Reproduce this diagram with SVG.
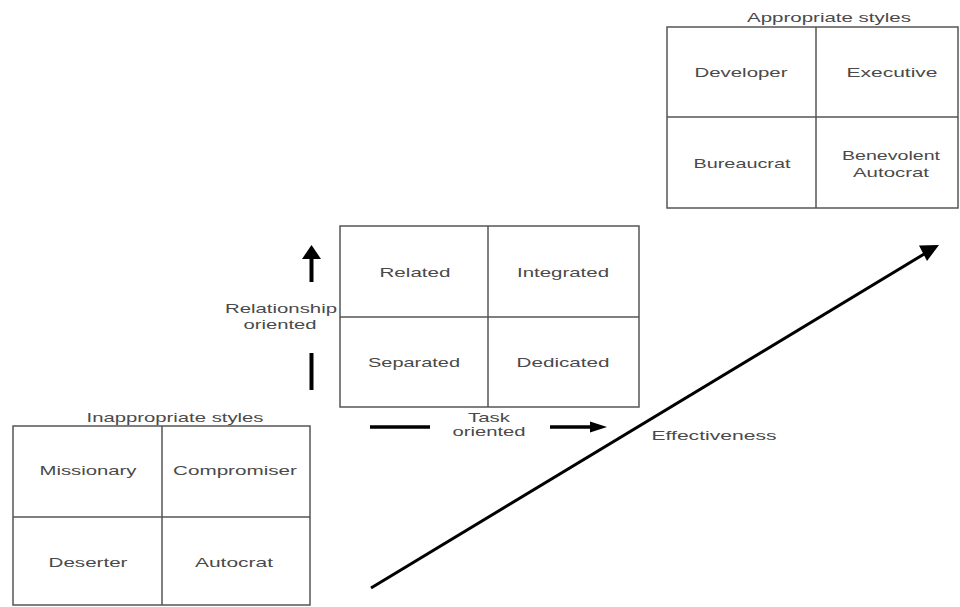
<svg xmlns="http://www.w3.org/2000/svg" width="960" height="607" viewBox="0 0 960 607">
<style>
.t{font-family:"Liberation Sans",Arial,sans-serif;font-size:13px;fill:#4a4a4a;text-anchor:middle}
.g{fill:none;stroke:#555;stroke-width:1.5}
.c{fill:none;stroke:#000}
</style>
<defs>
<marker id="ah" viewBox="0 0 10 10" refX="9" refY="5" markerWidth="6" markerHeight="4" orient="auto" markerUnits="strokeWidth">
<path d="M0,0 L10,5 L0,10 z" fill="#000"/>
</marker>
</defs>
<rect width="960" height="607" fill="#fff"/>

<g id="appropriate">
<text class="t" x="829" y="22" textLength="164" lengthAdjust="spacingAndGlyphs">Appropriate styles</text>
<rect class="g" x="667" y="27" width="291" height="181"/>
<line class="g" x1="816" y1="27" x2="816" y2="208"/>
<line class="g" x1="667" y1="117" x2="958" y2="117"/>
<text class="t" x="741" y="77" textLength="93" lengthAdjust="spacingAndGlyphs">Developer</text>
<text class="t" x="892" y="77" textLength="91" lengthAdjust="spacingAndGlyphs">Executive</text>
<text class="t" x="742" y="168" textLength="97" lengthAdjust="spacingAndGlyphs">Bureaucrat</text>
<text class="t" x="891" y="160" textLength="98" lengthAdjust="spacingAndGlyphs">Benevolent</text>
<text class="t" x="891" y="177" textLength="76" lengthAdjust="spacingAndGlyphs">Autocrat</text>
</g>

<g id="middle-grid">
<rect class="g" x="340" y="226" width="299" height="181"/>
<line class="g" x1="488" y1="226" x2="488" y2="407"/>
<line class="g" x1="340" y1="317" x2="639" y2="317"/>
<text class="t" x="415" y="277" textLength="71" lengthAdjust="spacingAndGlyphs">Related</text>
<text class="t" x="563" y="277" textLength="92" lengthAdjust="spacingAndGlyphs">Integrated</text>
<text class="t" x="414" y="367" textLength="92" lengthAdjust="spacingAndGlyphs">Separated</text>
<text class="t" x="563" y="367" textLength="93" lengthAdjust="spacingAndGlyphs">Dedicated</text>
</g>

<g id="relationship-label">
<text class="t" x="281" y="313" textLength="112" lengthAdjust="spacingAndGlyphs">Relationship</text>
<text class="t" x="280" y="329" textLength="73" lengthAdjust="spacingAndGlyphs">oriented</text>
</g>

<g id="task-label">
<text class="t" x="489" y="422" textLength="42" lengthAdjust="spacingAndGlyphs">Task</text>
<text class="t" x="489" y="436" textLength="73" lengthAdjust="spacingAndGlyphs">oriented</text>
</g>

<g id="effectiveness-label">
<text class="t" x="714" y="440" textLength="125" lengthAdjust="spacingAndGlyphs">Effectiveness</text>
</g>

<g id="inappropriate">
<text class="t" x="175" y="422" textLength="177" lengthAdjust="spacingAndGlyphs">Inappropriate styles</text>
<rect class="g" x="13" y="426" width="297" height="179"/>
<line class="g" x1="162" y1="426" x2="162" y2="605"/>
<line class="g" x1="13" y1="517" x2="310" y2="517"/>
<text class="t" x="88" y="475" textLength="97" lengthAdjust="spacingAndGlyphs">Missionary</text>
<text class="t" x="235" y="475" textLength="124" lengthAdjust="spacingAndGlyphs">Compromiser</text>
<text class="t" x="88" y="567" textLength="79" lengthAdjust="spacingAndGlyphs">Deserter</text>
<text class="t" x="234" y="567" textLength="78" lengthAdjust="spacingAndGlyphs">Autocrat</text>
</g>

<g id="connectors">
<line class="c" x1="311.5" y1="282" x2="311.5" y2="258" stroke-width="4"/>
<path d="M302,259 L311.5,245 L321,259 z" fill="#000"/>
<line class="c" x1="311.5" y1="353" x2="311.5" y2="390" stroke-width="4"/>
<line class="c" x1="370" y1="427" x2="430" y2="427" stroke-width="3.5"/>
<line class="c" x1="550" y1="427" x2="592" y2="427" stroke-width="3.5"/>
<path d="M590,421.5 L607,427 L590,432.5 z" fill="#000"/>
<line class="c" x1="371" y1="588" x2="925" y2="253.5" stroke-width="3"/>
<path d="M919,245.5 L939,245 L927,261 z" fill="#000"/>
</g>
</svg>
